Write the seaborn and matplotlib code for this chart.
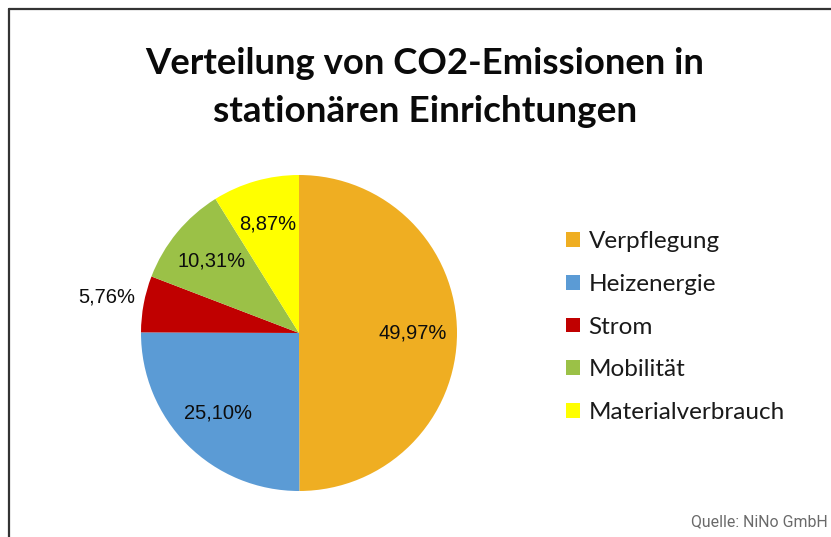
import matplotlib
matplotlib.use('Agg')
import matplotlib.pyplot as plt
import seaborn as sns
import numpy as np
from matplotlib.patches import Patch
from matplotlib.lines import Line2D

categories = ['Verpflegung', 'Heizenergie', 'Strom', 'Mobilität', 'Materialverbrauch']
shares = [49.97, 25.10, 5.76, 10.31, 8.87]
share_labels = ['49,97%', '25,10%', '5,76%', '10,31%', '8,87%']
colors = ['#EFAE22', '#5B9BD5', '#C00000', '#9BC147', '#FFFF00']

sns.set_theme(style='white')
palette = sns.color_palette(colors)

W, H = 831, 537
fig = plt.figure(figsize=(W / 100, H / 100), dpi=100)
fig.patch.set_facecolor('white')

# pie axes: center ~ (299, 333) px, radius ~158 px
r = 158
cx, cy = 299, 333
ax = fig.add_axes([(cx - r) / W, 1 - (cy + r) / H, 2 * r / W, 2 * r / H])

wedges, texts = ax.pie(shares, colors=palette, startangle=90, counterclock=False,
                       wedgeprops=dict(linewidth=0))
ax.set_xlim(-1, 1)
ax.set_ylim(-1, 1)
ax.set_aspect('equal')

for w, lab, cat in zip(wedges, share_labels, categories):
    ang = np.deg2rad((w.theta1 + w.theta2) / 2)
    d = 1.24 if cat == 'Strom' else 0.72
    ax.text(d * np.cos(ang), d * np.sin(ang), lab, ha='center', va='center',
            fontsize=14.5, family='Liberation Sans', color='#0d0d0d')

# title
fig.text(425 / W, 1 - 63 / H, 'Verteilung von CO2-Emissionen in', ha='center', va='center',
         fontsize=26.3, fontweight='bold', family='Lato', color='#0a0a0a')
fig.text(425 / W, 1 - 111 / H, 'stationären Einrichtungen', ha='center', va='center',
         fontsize=26.6, fontweight='bold', family='Lato', color='#0a0a0a')

# legend
handles = [Patch(facecolor=c, edgecolor='none') for c in palette]
leg = fig.legend(handles, categories, loc='center left', bbox_to_anchor=(566 / W, 1 - 327 / H),
                 frameon=False, borderpad=0, borderaxespad=0, handlelength=0.56, handleheight=0.56,
                 handletextpad=0.37, labelspacing=0.89, prop=dict(family='Lato', size=17.5))
for t in leg.get_texts():
    t.set_color('#1a1a1a')

# source
fig.text(828 / W, 1 - 522 / H, 'Quelle: NiNo GmbH', ha='right', va='center',
         fontsize=11.4, family='Roboto', color='#6a6a6a')

# frame lines (left and top only)
fig.add_artist(Line2D([9 / W, 9 / W], [0, 1 - 9 / H], color='#333333', linewidth=1.6))
fig.add_artist(Line2D([9 / W, 1], [1 - 9 / H, 1 - 9 / H], color='#333333', linewidth=1.6))

fig.savefig('out.png', dpi=100, facecolor='white')
